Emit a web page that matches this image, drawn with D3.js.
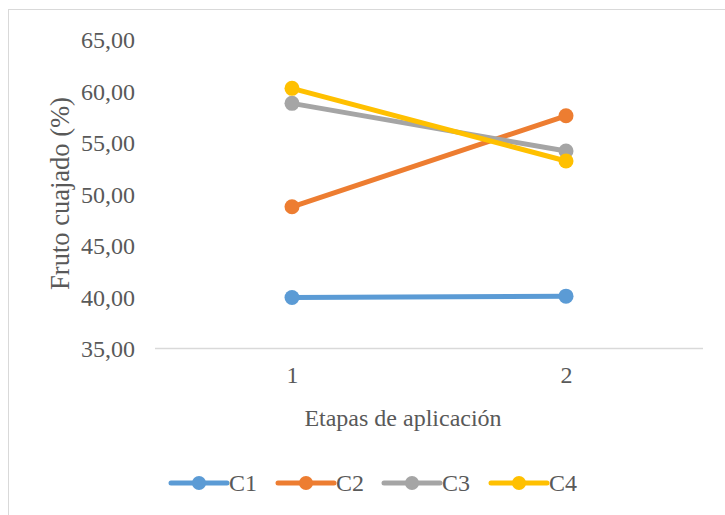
<!DOCTYPE html>
<html>
<head>
<meta charset="utf-8">
<script src="https://cdn.jsdelivr.net/npm/d3@7"></script>
<style>
  html, body { margin: 0; padding: 0; background: #fff; }
  svg { display: block; }
  text { font-family: "Liberation Serif", "Times New Roman", serif; fill: #595959; }
</style>
</head>
<body>
<svg id="chart" width="725" height="515"></svg>
<script>
// Etapas de aplicación (x categories)
const etapas = ["1", "2"];
// Series names and colours
const series = ["C1", "C2", "C3", "C4"];
const colors = ["#5B9BD5", "#ED7D31", "#A5A5A5", "#FFC000"];
// Fruto cuajado (%) per series, one value per stage
const c1 = [39.96, 40.09];
const c2 = [48.78, 57.63];
const c3 = [58.84, 54.20];
const c4 = [60.30, 53.23];
const yTicks = [35, 40, 45, 50, 55, 60, 65];

const data = [c1, c2, c3, c4].map((vals, i) => ({
  name: series[i],
  color: colors[i],
  values: vals.map((v, j) => ({ etapa: etapas[j], value: v }))
}));

const serif = '"Liberation Serif", "Times New Roman", serif';
const svg = d3.select("#chart");

// Chart-area frame (runs off the right and bottom edges)
svg.append("rect")
  .attr("x", 8.5).attr("y", 9.5)
  .attr("width", 740).attr("height", 530)
  .attr("fill", "#fff")
  .attr("stroke", "#d9d9d9").attr("stroke-width", 1);

const plot = { left: 155, right: 703, top: 40, bottom: 348.5 };

const x = d3.scalePoint()
  .domain(etapas)
  .range([plot.left, plot.right])
  .padding(0.5);

const y = d3.scaleLinear()
  .domain([35, 65])
  .range([plot.bottom, plot.top]);

const fmt = v => d3.format(".2f")(v).replace(".", ",");

// Y axis labels
const yAxis = d3.axisLeft(y).tickValues(yTicks).tickFormat(fmt).tickSize(0).tickPadding(20);
const gy = svg.append("g").attr("transform", `translate(${plot.left},0)`).call(yAxis);
gy.select(".domain").remove();
gy.selectAll("text")
  .attr("font-size", 24)
  .attr("fill", "#595959")
  .attr("dy", "0.33em")
  .style("font-family", serif);

// X axis (baseline + category labels)
const xAxis = d3.axisBottom(x).tickSize(0).tickPadding(17);
const gx = svg.append("g").attr("transform", `translate(0,${plot.bottom})`).call(xAxis);
gx.select(".domain").attr("stroke", "#d9d9d9").attr("stroke-width", 1.5)
  .attr("d", `M${plot.left},0H${plot.right}`);
gx.selectAll("text")
  .attr("font-size", 24)
  .attr("fill", "#595959")
  .style("font-family", serif);

// Axis titles
svg.append("text")
  .attr("transform", `translate(60,193.5) rotate(-90)`)
  .attr("text-anchor", "middle")
  .attr("dy", "0.33em")
  .attr("font-size", 26.5)
  .text("Fruto cuajado (%)");

svg.append("text")
  .attr("x", 403).attr("y", 418)
  .attr("text-anchor", "middle")
  .attr("dy", "0.33em")
  .attr("font-size", 24)
  .text("Etapas de aplicación");

// Series lines and markers
const line = d3.line()
  .x(d => x(d.etapa))
  .y(d => y(d.value));

const gs = svg.append("g").selectAll("g").data(data).join("g");
gs.append("path")
  .attr("d", d => line(d.values))
  .attr("fill", "none")
  .attr("stroke", d => d.color)
  .attr("stroke-width", 5)
  .attr("stroke-linecap", "round");
gs.selectAll("circle")
  .data(d => d.values.map(v => ({ ...v, color: d.color })))
  .join("circle")
  .attr("cx", d => x(d.etapa))
  .attr("cy", d => y(d.value))
  .attr("r", 7.5)
  .attr("fill", d => d.color);

// Legend
const legendX = [171, 278, 384, 491];
const legendY = 483;
const lg = svg.append("g").selectAll("g").data(data).join("g")
  .attr("transform", (d, i) => `translate(${legendX[i]},${legendY})`);
lg.append("line")
  .attr("x1", 0).attr("x2", 56)
  .attr("stroke", d => d.color)
  .attr("stroke-width", 5)
  .attr("stroke-linecap", "round");
lg.append("circle")
  .attr("cx", 28).attr("r", 7)
  .attr("fill", d => d.color);
lg.append("text")
  .attr("x", 58).attr("y", 0)
  .attr("dy", "0.33em")
  .attr("font-size", 24)
  .text(d => d.name);
</script>
</body>
</html>
